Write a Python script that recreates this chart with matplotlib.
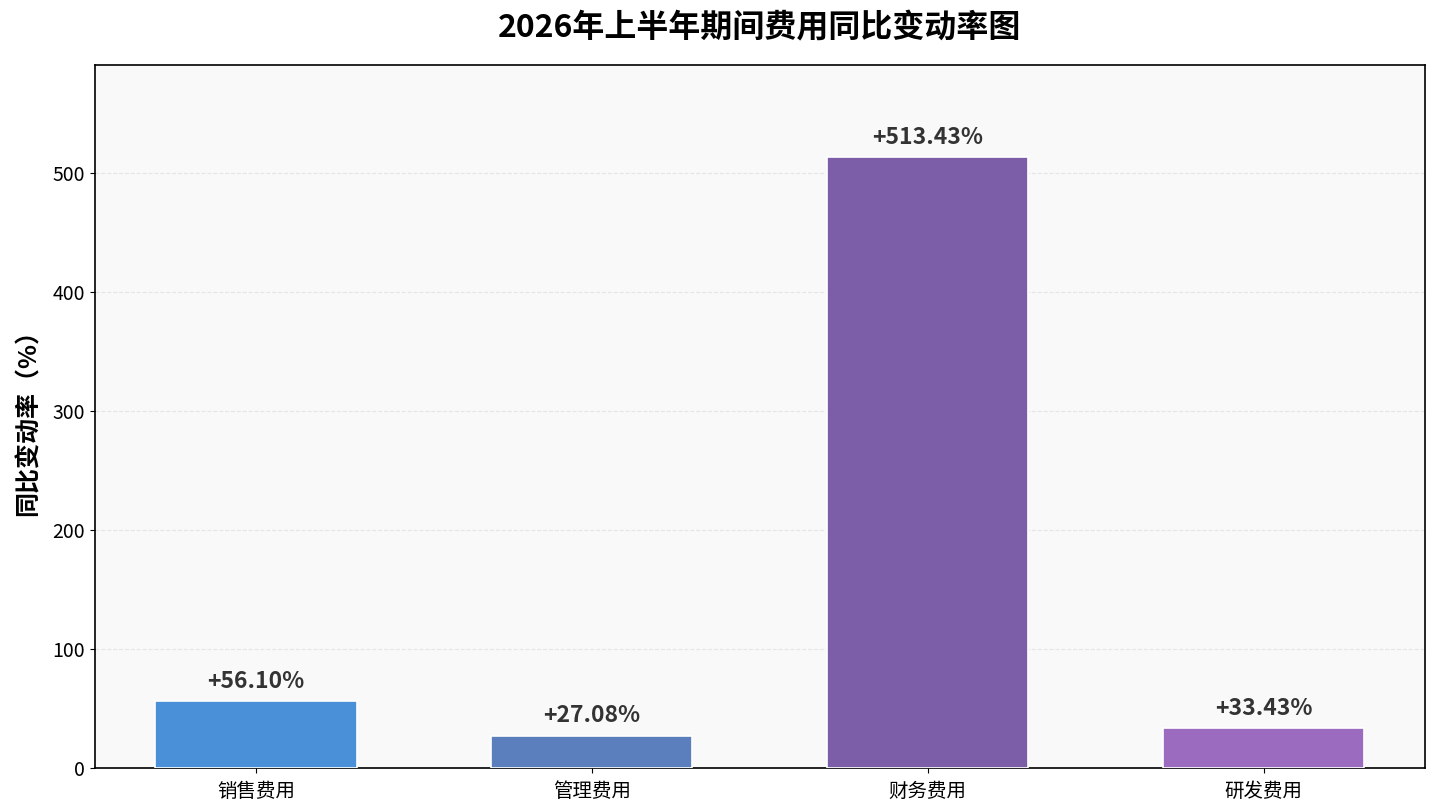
import matplotlib
matplotlib.use("Agg")
import matplotlib.pyplot as plt

plt.rcParams['font.family'] = ['Noto Sans CJK SC', 'DejaVu Sans']
plt.rcParams['axes.unicode_minus'] = False

# data
categories = ["销售费用", "管理费用", "财务费用", "研发费用"]
yoy_change = [56.10, 27.08, 513.43, 33.43]
bar_colors = ["#4a90d9", "#5b7fbd", "#7b5ea7", "#9b6bbf"]

fig, ax = plt.subplots(figsize=(14.32, 8.05), dpi=100)
fig.subplots_adjust(left=0.066, right=0.995, top=0.919, bottom=0.046)

ax.set_facecolor("#f9f9f9")
bars = ax.bar(categories, yoy_change, width=0.6, color=bar_colors,
              edgecolor="white", linewidth=1.2, zorder=3)

# value labels
for b, v in zip(bars, yoy_change):
    ax.annotate(f"{v:+.2f}%", (b.get_x() + b.get_width() / 2, b.get_height()),
                xytext=(0, 6), textcoords="offset points",
                ha="center", va="bottom", fontsize=16.5, fontweight="bold",
                color="#333333")

ax.set_ylim(0, max(yoy_change) * 1.15)
ax.yaxis.grid(True, linestyle="--", color="#dddddd", alpha=0.7, zorder=0)
ax.set_axisbelow(True)

ax.set_ylabel("同比变动率（%）", fontsize=18, fontweight="bold", labelpad=8)
ax.set_title("2026年上半年期间费用同比变动率图", fontsize=23, fontweight="bold", pad=20)
ax.tick_params(axis="both", labelsize=14)
ax.tick_params(axis="x", pad=6)
for s in ax.spines.values():
    s.set_linewidth(1.2)

plt.savefig("out.png")
